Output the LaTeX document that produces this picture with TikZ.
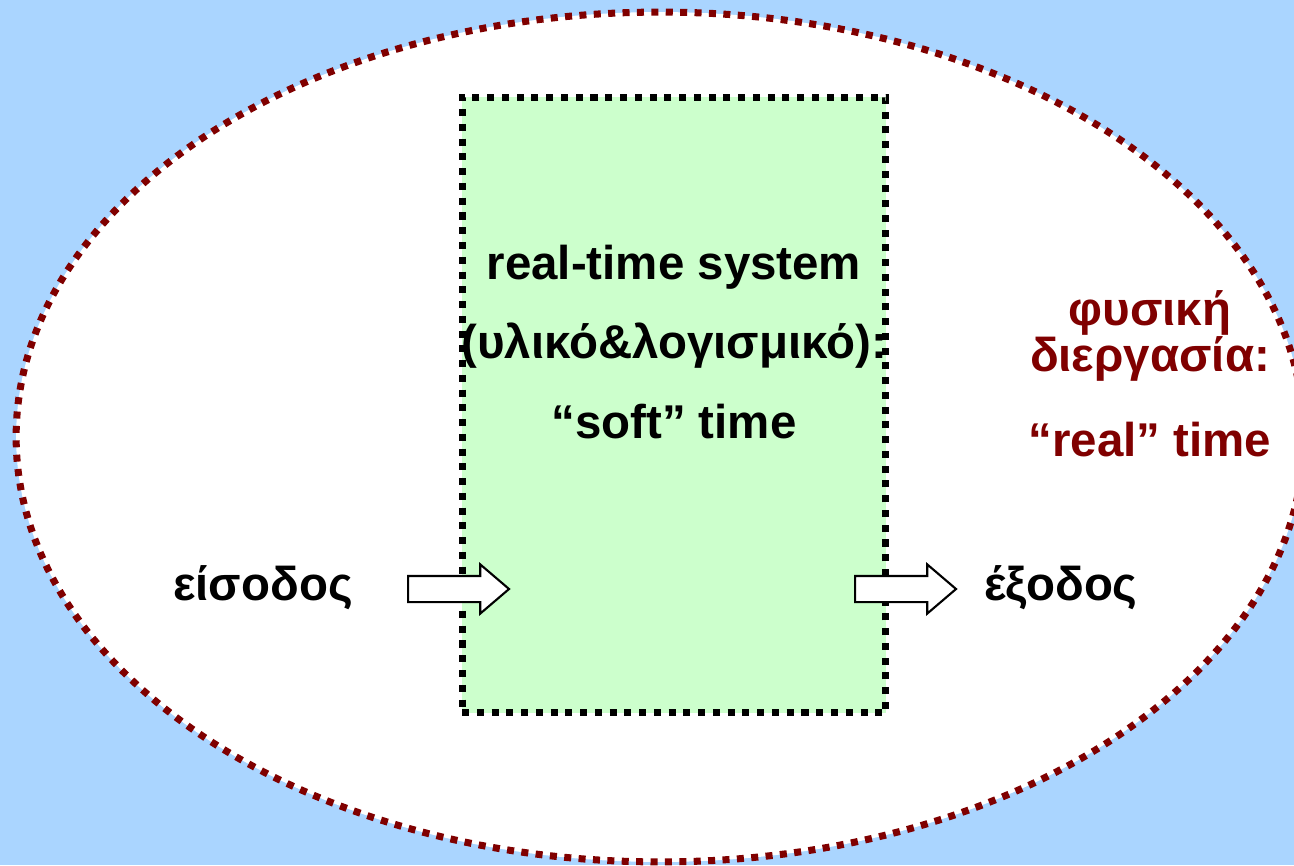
\documentclass[tikz,border=0pt]{standalone}
\usepackage{fontspec}
\setmainfont{Liberation Sans}
\usetikzlibrary{shapes.arrows}
\definecolor{skyBlue}{RGB}{170, 213, 255}
\definecolor{procRed}{RGB}{128, 0, 0}
\definecolor{sysGreen}{RGB}{204, 255, 204}

\begin{document}
\begin{tikzpicture}[x=0.02cm, y=-0.02cm,
    label/.style={font=\fontsize{27}{45}\selectfont\bfseries, align=center, inner sep=0pt},
    blockarrow/.style={single arrow, draw=black, fill=white, line width=1.2pt,
        inner sep=0pt, text height=0.24cm, text depth=0.24cm,
        single arrow head extend=0.23cm, single arrow tip angle=81,
        minimum height=2.02cm, anchor=tail}]
                % Background
                \fill[skyBlue] (0,0) rectangle (1294,865);
                \useasboundingbox (0,0) rectangle (1294,865);
                \clip (0,0) rectangle (1294,865);

                % Physical process (ellipse)
                \draw[procRed, fill=white, line width=4pt, dash pattern=on 4pt off 4.2pt]
                    (660,437) ellipse [x radius=12.88cm, y radius=8.5cm];

                % Real-time system (box)
                \node[draw=black, fill=sysGreen, line width=4pt, dash pattern=on 4pt off 4.4pt,
                      minimum width=8.48cm, minimum height=12.32cm] (sys) at (674,405) {};
                \node[label] (systxt) at (674,342) {real-time system\\(υλικό\&λογισμικό):\\“soft” time};

                % Input and output
                \node[label] (in) at (263,588) {είσοδος};
                \node[label] (out) at (1061,588) {έξοδος};
                \node[blockarrow] (inarrow) at (407,589) {};
                \node[blockarrow] (outarrow) at (854,589) {};

                % Process label
                \node[label, text=procRed, font=\fontsize{27}{21}\selectfont\bfseries] (phys) at (1150,336) {φυσική\\διεργασία:};
                \node[label, text=procRed] (realt) at (1150,440) {“real” time};
            \end{tikzpicture}
\end{document}
